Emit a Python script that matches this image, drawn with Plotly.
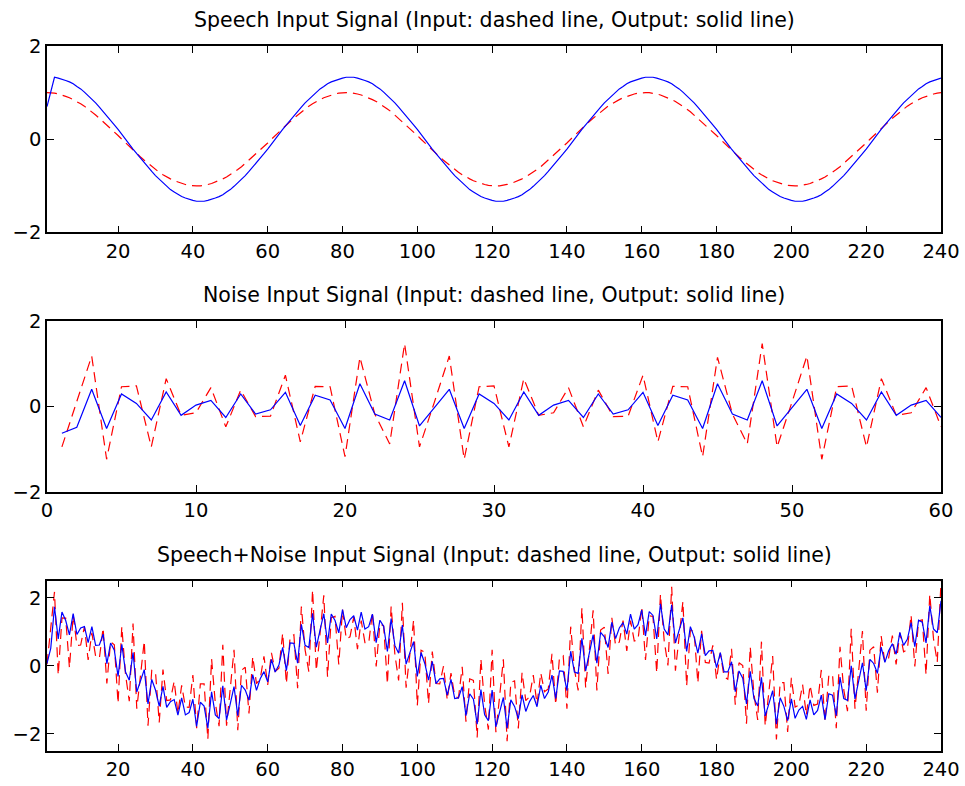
import plotly.graph_objects as go

# ---------------- data ----------------
sample_index = list(range(1, 241))
noise_index = list(range(1, 61))

speech_input = [
    1.00, 1.00, 0.99, 0.97, 0.95, 0.92, 0.89, 0.85, 0.81, 0.76,
    0.71, 0.65, 0.59, 0.52, 0.45, 0.38, 0.31, 0.23, 0.16, 0.08,
    0.00, -0.08, -0.16, -0.23, -0.31, -0.38, -0.45, -0.52, -0.59, -0.65,
    -0.71, -0.76, -0.81, -0.85, -0.89, -0.92, -0.95, -0.97, -0.99, -1.00,
    -1.00, -1.00, -0.99, -0.97, -0.95, -0.92, -0.89, -0.85, -0.81, -0.76,
    -0.71, -0.65, -0.59, -0.52, -0.45, -0.38, -0.31, -0.23, -0.16, -0.08,
    0.00, 0.08, 0.16, 0.23, 0.31, 0.38, 0.45, 0.52, 0.59, 0.65,
    0.71, 0.76, 0.81, 0.85, 0.89, 0.92, 0.95, 0.97, 0.99, 1.00,
    1.00, 1.00, 0.99, 0.97, 0.95, 0.92, 0.89, 0.85, 0.81, 0.76,
    0.71, 0.65, 0.59, 0.52, 0.45, 0.38, 0.31, 0.23, 0.16, 0.08,
    0.00, -0.08, -0.16, -0.23, -0.31, -0.38, -0.45, -0.52, -0.59, -0.65,
    -0.71, -0.76, -0.81, -0.85, -0.89, -0.92, -0.95, -0.97, -0.99, -1.00,
    -1.00, -1.00, -0.99, -0.97, -0.95, -0.92, -0.89, -0.85, -0.81, -0.76,
    -0.71, -0.65, -0.59, -0.52, -0.45, -0.38, -0.31, -0.23, -0.16, -0.08,
    0.00, 0.08, 0.16, 0.23, 0.31, 0.38, 0.45, 0.52, 0.59, 0.65,
    0.71, 0.76, 0.81, 0.85, 0.89, 0.92, 0.95, 0.97, 0.99, 1.00,
    1.00, 1.00, 0.99, 0.97, 0.95, 0.92, 0.89, 0.85, 0.81, 0.76,
    0.71, 0.65, 0.59, 0.52, 0.45, 0.38, 0.31, 0.23, 0.16, 0.08,
    0.00, -0.08, -0.16, -0.23, -0.31, -0.38, -0.45, -0.52, -0.59, -0.65,
    -0.71, -0.76, -0.81, -0.85, -0.89, -0.92, -0.95, -0.97, -0.99, -1.00,
    -1.00, -1.00, -0.99, -0.97, -0.95, -0.92, -0.89, -0.85, -0.81, -0.76,
    -0.71, -0.65, -0.59, -0.52, -0.45, -0.38, -0.31, -0.23, -0.16, -0.08,
    0.00, 0.08, 0.16, 0.23, 0.31, 0.38, 0.45, 0.52, 0.59, 0.65,
    0.71, 0.76, 0.81, 0.85, 0.89, 0.92, 0.95, 0.97, 0.99, 1.00,
]

speech_output = [
    0.70, 1.00, 1.33, 1.31, 1.29, 1.26, 1.23, 1.19, 1.13, 1.08,
    1.01, 0.94, 0.86, 0.78, 0.69, 0.60, 0.51, 0.41, 0.31, 0.21,
    0.10, 0.00, -0.10, -0.21, -0.31, -0.41, -0.51, -0.60, -0.69, -0.78,
    -0.86, -0.94, -1.01, -1.08, -1.13, -1.19, -1.23, -1.26, -1.29, -1.31,
    -1.33, -1.33, -1.33, -1.31, -1.29, -1.26, -1.23, -1.19, -1.13, -1.08,
    -1.01, -0.94, -0.86, -0.78, -0.69, -0.60, -0.51, -0.41, -0.31, -0.21,
    -0.10, 0.00, 0.10, 0.21, 0.31, 0.41, 0.51, 0.60, 0.69, 0.78,
    0.86, 0.94, 1.01, 1.08, 1.13, 1.19, 1.23, 1.26, 1.29, 1.31,
    1.33, 1.33, 1.33, 1.31, 1.29, 1.26, 1.23, 1.19, 1.13, 1.08,
    1.01, 0.94, 0.86, 0.78, 0.69, 0.60, 0.51, 0.41, 0.31, 0.21,
    0.10, 0.00, -0.10, -0.21, -0.31, -0.41, -0.51, -0.60, -0.69, -0.78,
    -0.86, -0.94, -1.01, -1.08, -1.13, -1.19, -1.23, -1.26, -1.29, -1.31,
    -1.33, -1.33, -1.33, -1.31, -1.29, -1.26, -1.23, -1.19, -1.13, -1.08,
    -1.01, -0.94, -0.86, -0.78, -0.69, -0.60, -0.51, -0.41, -0.31, -0.21,
    -0.10, 0.00, 0.10, 0.21, 0.31, 0.41, 0.51, 0.60, 0.69, 0.78,
    0.86, 0.94, 1.01, 1.08, 1.13, 1.19, 1.23, 1.26, 1.29, 1.31,
    1.33, 1.33, 1.33, 1.31, 1.29, 1.26, 1.23, 1.19, 1.13, 1.08,
    1.01, 0.94, 0.86, 0.78, 0.69, 0.60, 0.51, 0.41, 0.31, 0.21,
    0.10, 0.00, -0.10, -0.21, -0.31, -0.41, -0.51, -0.60, -0.69, -0.78,
    -0.86, -0.94, -1.01, -1.08, -1.13, -1.19, -1.23, -1.26, -1.29, -1.31,
    -1.33, -1.33, -1.33, -1.31, -1.29, -1.26, -1.23, -1.19, -1.13, -1.08,
    -1.01, -0.94, -0.86, -0.78, -0.69, -0.60, -0.51, -0.41, -0.31, -0.21,
    -0.10, 0.00, 0.10, 0.21, 0.31, 0.41, 0.51, 0.60, 0.69, 0.78,
    0.86, 0.94, 1.01, 1.08, 1.13, 1.19, 1.23, 1.26, 1.29, 1.31,
]

noise_input = [
    -0.95, 0.10, 1.18, -1.24, 0.46, 0.48, -0.95, 0.65, -0.21, -0.15,
    0.44, -0.48, 0.38, -0.24, -0.23, 0.73, -0.83, 0.47, 0.46, -1.18,
    1.15, -0.18, -0.88, 1.47, -0.95, 0.10, 1.18, -1.24, 0.46, 0.48,
    -0.95, 0.65, -0.21, -0.15, 0.44, -0.48, 0.38, -0.24, -0.23, 0.73,
    -0.83, 0.47, 0.46, -1.18, 1.15, -0.18, -0.88, 1.47, -0.95, 0.10,
    1.18, -1.24, 0.46, 0.48, -0.95, 0.65, -0.21, -0.15, 0.44, -0.48,
]

noise_output = [
    -0.63, -0.49, 0.40, -0.52, 0.29, 0.07, -0.32, 0.34, -0.21, 0.03,
    0.14, -0.26, 0.29, -0.18, -0.08, 0.33, -0.45, 0.26, 0.15, -0.52,
    0.53, -0.18, -0.32, 0.60, -0.46, -0.03, 0.40, -0.52, 0.29, 0.07,
    -0.32, 0.34, -0.21, 0.03, 0.14, -0.26, 0.29, -0.18, -0.08, 0.33,
    -0.45, 0.26, 0.15, -0.52, 0.53, -0.18, -0.32, 0.60, -0.46, -0.03,
    0.40, -0.52, 0.29, 0.07, -0.32, 0.34, -0.21, 0.03, 0.14, -0.26,
]

mixed_input = [
    0.05, 1.10, 2.17, -0.27, 1.41, 1.40, -0.06, 1.50, 0.60, 0.61, 1.15, 0.17,
    0.97, 0.28, 0.22, 1.11, -0.52, 0.70, 0.62, -1.10, 1.15, -0.26, -1.04, 1.24,
    -1.26, -0.28, 0.73, -1.76, -0.13, -0.17, -1.66, -0.11, -1.02, -1.00, -0.45, -1.40,
    -0.57, -1.21, -1.22, -0.27, -1.83, -0.53, -0.53, -2.15, 0.20, -1.10, -1.77, 0.62,
    -1.76, -0.66, 0.47, -1.89, -0.13, -0.04, -1.40, 0.27, -0.52, -0.38, 0.28, -0.56,
    0.38, -0.16, -0.07, 0.96, -0.52, 0.85, 0.91, -0.66, 1.74, 0.47, -0.17, 2.23,
    -0.14, 0.95, 2.07, -0.32, 1.41, 1.45, 0.04, 1.65, 0.79, 0.85, 1.43, 0.49,
    1.33, 0.68, 0.66, 1.58, -0.02, 1.23, 1.17, -0.53, 1.74, 0.34, -0.43, 1.85,
    -0.64, 0.33, 1.34, -1.16, 0.46, 0.40, -1.11, 0.42, -0.52, -0.53, -0.01, -1.00,
    -0.21, -0.89, -0.94, -0.03, -1.64, -0.38, -0.43, -2.10, 0.20, -1.15, -1.87, 0.47,
    -1.95, -0.90, 0.19, -2.21, -0.49, -0.44, -1.84, -0.20, -1.02, -0.91, -0.27, -1.13,
    -0.21, -0.76, -0.68, 0.35, -1.14, 0.24, 0.30, -1.26, 1.15, -0.10, -0.72, 1.70,
    -0.64, 0.48, 1.63, -0.72, 1.05, 1.13, -0.24, 1.41, 0.60, 0.70, 1.33, 0.44,
    1.33, 0.73, 0.76, 1.73, 0.17, 1.47, 1.45, -0.21, 2.10, 0.74, 0.01, 2.32,
    -0.14, 0.86, 1.89, -0.59, 1.05, 1.00, -0.50, 1.03, 0.10, 0.08, 0.60, -0.40,
    0.38, -0.32, -0.39, 0.50, -1.14, 0.09, 0.01, -1.70, 0.56, -0.83, -1.59, 0.71,
    -1.76, -0.75, 0.29, -2.16, -0.49, -0.49, -1.94, -0.35, -1.21, -1.15, -0.55, -1.45,
    -0.57, -1.16, -1.12, -0.12, -1.64, -0.29, -0.25, -1.83, 0.56, -0.70, -1.33, 1.09,
    -1.26, -0.13, 1.02, -1.32, 0.46, 0.56, -0.79, 0.88, 0.10, 0.23, 0.89, 0.04,
    0.97, 0.41, 0.48, 1.49, -0.02, 1.32, 1.35, -0.26, 2.10, 0.79, 0.11, 2.47,
]

mixed_output = [
    0.07, 0.51, 1.73, 0.79, 1.58, 1.33, 0.91, 1.53, 0.92, 1.11, 1.15, 0.68,
    1.15, 0.60, 0.61, 0.93, 0.06, 0.67, 0.46, -0.31, 0.63, -0.18, -0.42, 0.39,
    -0.77, -0.44, -0.11, -1.12, -0.40, -0.71, -1.18, -0.60, -1.22, -1.05, -0.99, -1.45,
    -0.94, -1.44, -1.37, -0.98, -1.78, -1.07, -1.18, -1.83, -0.76, -1.44, -1.55, -0.59,
    -1.59, -1.11, -0.61, -1.46, -0.57, -0.71, -1.01, -0.26, -0.72, -0.38, -0.17, -0.47,
    0.19, -0.18, 0.02, 0.54, -0.14, 0.67, 0.66, 0.08, 1.22, 0.60, 0.54, 1.54,
    0.55, 1.05, 1.53, 0.67, 1.52, 1.33, 0.97, 1.65, 1.12, 1.36, 1.47, 1.05,
    1.58, 1.08, 1.15, 1.52, 0.68, 1.34, 1.16, 0.42, 1.39, 0.60, 0.37, 1.20,
    0.05, 0.38, 0.71, -0.31, 0.39, 0.07, -0.42, 0.13, -0.52, -0.38, -0.37, -0.86,
    -0.40, -0.96, -0.94, -0.61, -1.46, -0.82, -0.98, -1.71, -0.70, -1.44, -1.61, -0.71,
    -1.79, -1.36, -0.93, -1.83, -1.00, -1.19, -1.55, -0.85, -1.34, -1.05, -0.87, -1.20,
    -0.57, -0.96, -0.77, -0.27, -0.96, -0.15, -0.16, -0.73, 0.43, -0.18, -0.22, 0.81,
    -0.15, 0.38, 0.91, 0.08, 0.98, 0.85, 0.54, 1.28, 0.80, 1.11, 1.27, 0.93,
    1.52, 1.08, 1.21, 1.64, 0.88, 1.59, 1.48, 0.79, 1.82, 1.08, 0.91, 1.79,
    0.67, 1.05, 1.41, 0.42, 1.15, 0.85, 0.37, 0.94, 0.30, 0.44, 0.45, -0.05,
    0.39, -0.18, -0.18, 0.12, -0.76, -0.15, -0.36, -1.12, -0.16, -0.96, -1.18, -0.34,
    -1.47, -1.11, -0.73, -1.71, -0.94, -1.19, -1.61, -0.97, -1.54, -1.30, -1.19, -1.57,
    -1.00, -1.44, -1.31, -0.86, -1.58, -0.82, -0.86, -1.46, -0.33, -0.96, -1.01, 0.00,
    -0.97, -0.44, 0.09, -0.73, 0.19, 0.07, -0.22, 0.55, 0.10, 0.44, 0.65, 0.34,
    0.98, 0.60, 0.78, 1.27, 0.56, 1.34, 1.28, 0.67, 1.76, 1.08, 0.97, 1.91,
]

titles = [
    "Speech Input Signal (Input: dashed line, Output: solid line)",
    "Noise Input Signal (Input: dashed line, Output: solid line)",
    "Speech+Noise Input Signal (Input: dashed line, Output: solid line)",
]
long_ticks = [20, 40, 60, 80, 100, 120, 140, 160, 180, 200, 220, 240]
short_ticks = [0, 10, 20, 30, 40, 50, 60]
y_ticks = [-2, 0, 2]

# ---------------- figure ----------------
FONT = "DejaVu Sans, Verdana, sans-serif"
RED = "#ff0000"
BLUE = "#0000ff"
DASH = "10px,6px"

panels = [
    (sample_index, speech_input, speech_output, "x", "y"),
    (noise_index, noise_input, noise_output, "x2", "y2"),
    (sample_index, mixed_input, mixed_output, "x3", "y3"),
]

fig = go.Figure()
for xs, yin, yout, xa, ya in panels:
    fig.add_trace(go.Scatter(x=xs, y=yin, mode="lines", xaxis=xa, yaxis=ya,
                             line=dict(color=RED, width=1.2, dash=DASH),
                             showlegend=False, hoverinfo="skip"))
    fig.add_trace(go.Scatter(x=xs, y=yout, mode="lines", xaxis=xa, yaxis=ya,
                             line=dict(color=BLUE, width=1.2),
                             showlegend=False, hoverinfo="skip"))

axis_style = dict(
    showline=True, linecolor="black", linewidth=1.6, mirror="ticks",
    ticks="inside", ticklen=7, tickwidth=1.2, tickcolor="black",
    showgrid=False, zeroline=False, fixedrange=True, automargin=False,
    tickfont=dict(family=FONT, size=19.5, color="black"),
)

domains = [[0.7355, 1.0], [0.3678, 0.6099], [0.0, 0.2416]]

fig.update_layout(
    width=965, height=786,
    margin=dict(l=47, r=24, t=46, b=35),
    paper_bgcolor="white", plot_bgcolor="white",
    font=dict(family=FONT, color="black"),
    xaxis=dict(axis_style, domain=[0, 1], range=[1, 240], tickvals=long_ticks, anchor="y"),
    yaxis=dict(axis_style, domain=domains[0], range=[-2, 2], tickvals=y_ticks, anchor="x"),
    xaxis2=dict(axis_style, domain=[0, 1], range=[0, 60], tickvals=short_ticks, anchor="y2"),
    yaxis2=dict(axis_style, domain=domains[1], range=[-2, 2], tickvals=y_ticks, anchor="x2"),
    xaxis3=dict(axis_style, domain=[0, 1], range=[1, 240], tickvals=long_ticks, anchor="y3"),
    yaxis3=dict(axis_style, domain=domains[2], range=[-2.5, 2.5], tickvals=y_ticks, anchor="x3"),
)

for title, dom in zip(titles, domains):
    fig.add_annotation(text=title, xref="paper", yref="paper", x=0.5, y=dom[1],
                       xanchor="center", yanchor="bottom", yshift=12, showarrow=False,
                       font=dict(family=FONT, size=20.5, color="black"))

fig.write_html(
    "out.html",
    config={"displayModeBar": False},
    post_script="document.body.style.margin='0px';document.body.style.overflow='hidden';",
)
